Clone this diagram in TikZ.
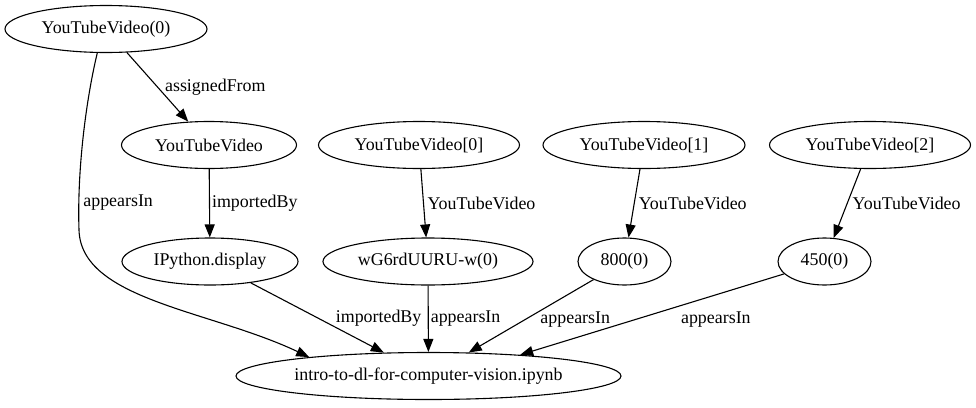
\documentclass[tikz,border=0pt]{standalone}
\usepackage{fontspec}
\setmainfont{Liberation Serif}
\usetikzlibrary{arrows.meta, shapes.geometric, positioning}

\begin{document}
\begin{tikzpicture}[
  x=1pt, y=-1pt,
  obj/.style = {ellipse, draw=black, line width=1.1pt, inner sep=0pt,
                minimum height=47pt, font=\fontsize{17.9}{21}\selectfont},
  arr/.style = {-{Triangle[length=13pt,width=10pt]}, line width=1.1pt},
  lbl/.style = {font=\fontsize{17.9}{21}\selectfont, inner sep=0pt}
]
\useasboundingbox (0,0) rectangle (976,407);

\node[obj, minimum width=202pt] (ytv0) at (106,29) {YouTubeVideo(0)};
\node[obj, minimum width=175pt] (ytv) at (209,145) {YouTubeVideo};
\node[obj, minimum width=201pt] (ytva) at (419,145) {YouTubeVideo[0]};
\node[obj, minimum width=202pt] (ytvb) at (644,145) {YouTubeVideo[1]};
\node[obj, minimum width=201pt] (ytvc) at (870,145) {YouTubeVideo[2]};
\node[obj, minimum width=176pt] (ipy) at (210,261.5) {IPython.display};
\node[obj, minimum width=210pt] (wid) at (428,261.5) {wG6rdUURU-w(0)};
\node[obj, minimum width=93pt] (w800) at (624.5,261.5) {800(0)};
\node[obj, minimum width=93pt] (h450) at (824.5,261.5) {450(0)};
\node[obj, minimum width=385pt] (nb) at (428.5,376) {intro-to-dl-for-computer-vision.ipynb};

\draw[arr] (ytv0) -- node[lbl, pos=0.5, right=7pt] {assignedFrom} (ytv);
\draw[arr] (ytv) -- node[lbl, pos=0.5, right=2pt] {importedBy} (ipy);
\draw[arr] (ytva) -- node[lbl, pos=0.5, right=3.5pt] {YouTubeVideo} (wid);
\draw[arr] (ytvb) -- node[lbl, pos=0.5, right=4pt] {YouTubeVideo} (w800);
\draw[arr] (ytvc) -- node[lbl, pos=0.5, right=5pt] {YouTubeVideo} (h450);

% notebook edges
\draw[arr] (ytv0.250) .. controls (86,100) and (77,170) .. (79,230)
  node[lbl, pos=0.85, right=4pt] {appearsIn}
  .. controls (81,300) and (210,310) .. (nb.171);
\draw[arr] (ipy) -- node[lbl, pos=0.5, right=18pt] {importedBy} (nb);
\draw[arr] (wid) -- node[lbl, pos=0.5, right=2pt] {appearsIn} (nb);
\draw[arr] (w800) -- node[lbl, pos=0.55, right=15pt] {appearsIn} (nb);
\draw[arr] (h450) -- node[lbl, pos=0.563, right=45pt] {appearsIn} (nb.13);

\end{tikzpicture}
\end{document}
